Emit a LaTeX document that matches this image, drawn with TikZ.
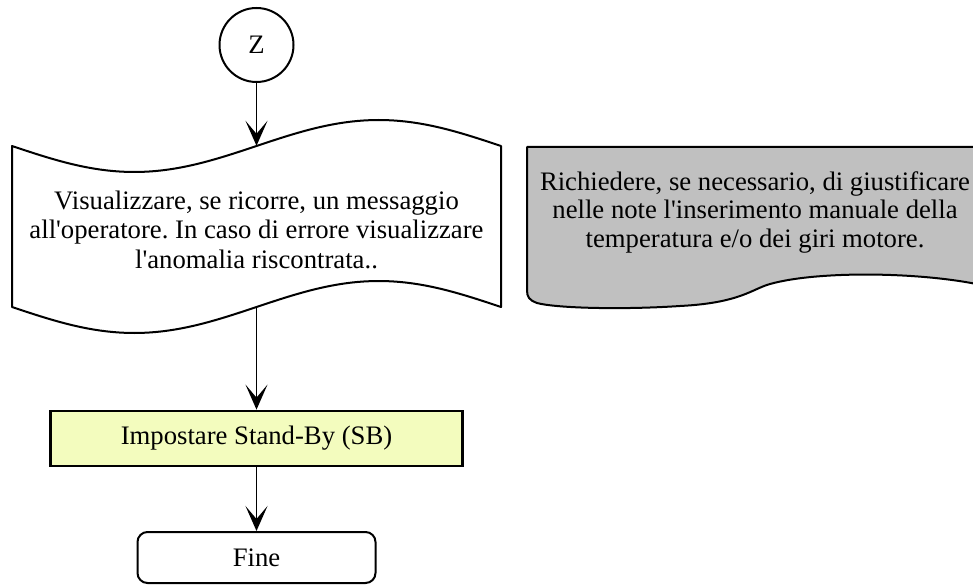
\documentclass[tikz,border=0pt]{standalone}
\usepackage{fontspec}
\setmainfont{Liberation Serif}
\usetikzlibrary{arrows.meta}
\definecolor{sbyellow}{RGB}{243,252,190}
\definecolor{notegrey}{RGB}{192,192,192}
\newcommand{\apos}{\textquotesingle}
\begin{document}
\frenchspacing
\begin{tikzpicture}[x=1pt,y=-1pt,
  every node/.style={font=\fontsize{26.7}{28.5}\selectfont, inner sep=0pt},
  shapeline/.style={draw=black, line width=2pt, line join=round},
  arr/.style={draw=black, line width=1.6pt, -{Stealth[length=25pt,width=22pt,inset=13pt]}},
  startcircle/.style={circle, shapeline, minimum size=74pt},
  procbox/.style={rectangle, draw=black, line width=2.8pt, fill=sbyellow, minimum width=412pt, minimum height=55pt},
  endbox/.style={rectangle, shapeline, rounded corners=10pt, minimum width=238pt, minimum height=51pt}
]
\useasboundingbox (0,0) rectangle (973,585);
\clip (0,0) rectangle (973,585);

% note (document shape, grey)
\path[shapeline, fill=notegrey] (527,147) -- (990,147) -- (990,287)
  .. controls (930,272) and (820,270) .. (770,284)
  .. controls (752,289) and (740,303) .. (680,306)
  .. controls (620,310) and (555,308) .. (537,303)
  .. controls (529,300) and (527,297) .. (527,290) -- cycle;
\node[align=center] (note) at (755,212)
  {Richiedere, se necessario, di giustificare\\nelle note l\apos inserimento manuale della\\temperatura e/o dei giri motore.};

% display shape (wavy top and bottom)
\node[minimum width=489pt, minimum height=161pt] (disp) at (256.5,226.5) {};
\path[shapeline] (12,307)
  -- plot[domain=0:360, samples=73] ({12+1.358333*\x},{146+26*sin(\x)})
  -- plot[domain=360:0, samples=73] ({12+1.358333*\x},{307+26*sin(\x)})
  -- cycle;
\node[align=center, font=\fontsize{26.7}{29.5}\selectfont] (disptext) at (256.5,229.5)
  {Visualizzare, se ricorre, un messaggio\\all\apos operatore. In caso di errore visualizzare\\l\apos anomalia riscontrata..};

\node[startcircle] (z) at (256.5,45) {Z};
\node[procbox] (sb) at (256.5,438.5) {Impostare Stand-By (SB)};
\node[endbox] (fine) at (256.5,557.5) {Fine};

\draw[arr] (z) -- (disp);
\draw[arr] (disp) -- (sb);
\draw[arr] (sb) -- (fine);
\end{tikzpicture}
\end{document}
